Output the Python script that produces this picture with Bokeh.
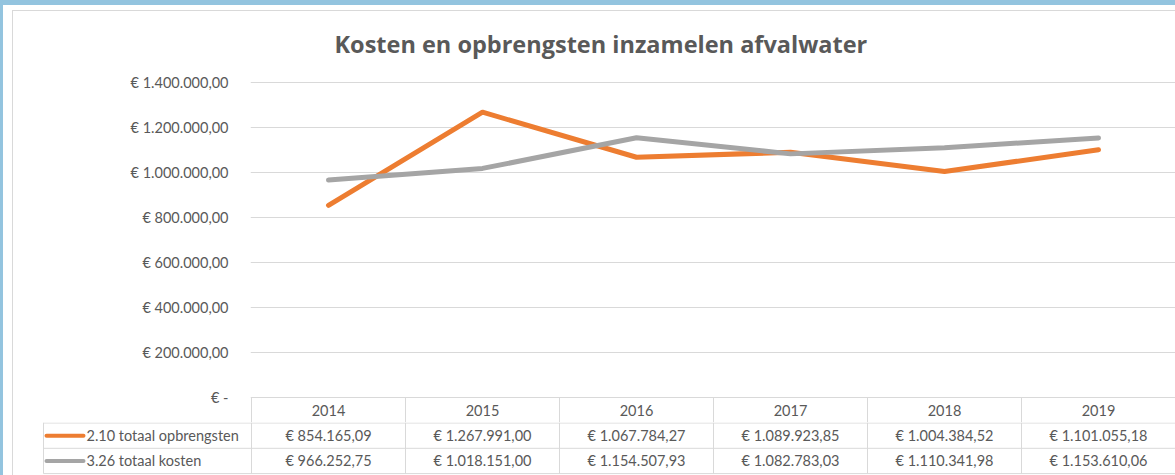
from bokeh.plotting import figure
from bokeh.models import Range1d, FixedTicker, Title, ColumnDataSource
from bokeh.layouts import column
from bokeh.core.properties import value
from bokeh.embed import file_html
from bokeh.resources import INLINE

# ---- data ----
years = ["2014", "2015", "2016", "2017", "2018", "2019"]
opbrengsten = [854165.09, 1267991.00, 1067784.27, 1089923.85, 1004384.52, 1101055.18]
kosten = [966252.75, 1018151.00, 1154507.93, 1082783.03, 1110341.98, 1153610.06]
series_names = ["2.10 totaal opbrengsten", "3.26 totaal kosten"]
y_ticks = [0, 200000, 400000, 600000, 800000, 1000000, 1200000, 1400000]
chart_title = "Kosten en opbrengsten inzamelen afvalwater"

# ---- style ----
ORANGE = "#ED7D31"
GRAY = "#A5A5A5"
TEXT = "#595959"
GRID = "#D9D9D9"
BLUE = "#93C4DF"
FONT = "Lato"
FS = "14.5px"

OX, OY = 13, 11     # page offset of the chart content (inside the frames)
W = 1175 - OX       # figure width
FRAME_LEFT = 250 - OX   # frame left in figure px
X0_PX = 251 - OX        # first category boundary
CAT_W = 154             # px per category
Y0_PX = 397 - OY        # value 0
TOP = 70 - OY           # frame top
HEADER_H = 25
MAIN_H = Y0_PX + HEADER_H
PX_PER_UNIT = 45 / 200000
TAB_H = 475 - OY - MAIN_H
ROW_H = 25.3


def euro(v):
    s = f"{v:,.2f}".replace(",", "X").replace(".", ",").replace("X", ".")
    return "€ " + s


def tick_label(v):
    return "€ -" if v == 0 else euro(v)


n = len(years)
xs = [i + 0.5 for i in range(n)]
x_start = -(X0_PX - FRAME_LEFT) / CAT_W
x_end = x_start + (W - FRAME_LEFT) / CAT_W
y_start = -HEADER_H / PX_PER_UNIT
y_end = (Y0_PX - TOP) / PX_PER_UNIT

p = figure(width=W, height=MAIN_H, x_range=Range1d(x_start, x_end), y_range=Range1d(y_start, y_end),
           output_backend="svg", toolbar_location=None,
           min_border_left=FRAME_LEFT, min_border_right=0, min_border_top=TOP, min_border_bottom=0,
           x_axis_location=None, frame_align=False)
p.title = Title(text=chart_title, align="left", offset=84, text_font="Open Sans",
                text_font_size="23.5px", text_font_style="bold", text_color=TEXT, standoff=22)
p.outline_line_color = None
p.xgrid.visible = False
p.ygrid.grid_line_color = GRID
p.ygrid.grid_line_width = 1
p.yaxis.ticker = FixedTicker(ticks=y_ticks)
p.yaxis.major_label_overrides = {t: tick_label(t) for t in y_ticks}
p.yaxis.axis_line_color = None
p.yaxis.major_tick_line_color = None
p.yaxis.minor_tick_line_color = None
p.yaxis.major_label_standoff = 16
p.yaxis.major_label_text_font = FONT
p.yaxis.major_label_text_font_size = FS
p.yaxis.major_label_text_color = TEXT

src = ColumnDataSource(dict(x=xs, opb=opbrengsten, kos=kosten))
p.line("x", "opb", source=src, line_color=ORANGE, line_width=5, line_cap="round", line_join="round")
p.line("x", "kos", source=src, line_color=GRAY, line_width=5, line_cap="round", line_join="round")

# table header row (years) in the main figure, below the value 0
p.segment(x0=list(range(n + 1)), y0=[0] * (n + 1), x1=list(range(n + 1)), y1=[y_start] * (n + 1),
          line_color=GRID, line_width=1)
txt = dict(text_font=value(FONT), text_font_size=FS, text_color=TEXT,
           text_align="center", text_baseline="middle")
p.text(x=xs, y=[-(HEADER_H / 2) / PX_PER_UNIT] * n, text=years, **txt)

# ---- data rows below ----
leg_left = (43 - OX - X0_PX) / CAT_W
t = figure(width=W, height=TAB_H, x_range=Range1d(-X0_PX / CAT_W, (W - X0_PX) / CAT_W),
           y_range=Range1d(TAB_H, 0), output_backend="svg", toolbar_location=None,
           min_border=0, min_border_left=0, min_border_right=0, min_border_top=0, min_border_bottom=0,
           x_axis_location=None, y_axis_location=None, frame_align=False)
t.grid.visible = False
t.outline_line_color = None

row_lines = [0.5, 0.5 + ROW_H, 0.5 + 2 * ROW_H]
t.segment(x0=[leg_left] * 3, y0=row_lines, x1=[n] * 3, y1=row_lines, line_color=GRID, line_width=1)
t.segment(x0=[leg_left] + list(range(n + 1)), y0=[0] * (n + 2),
          x1=[leg_left] + list(range(n + 1)), y1=[row_lines[-1]] * (n + 2),
          line_color=GRID, line_width=1)

r1 = 0.5 + ROW_H / 2
r2 = 0.5 + ROW_H * 1.5
t.text(x=xs, y=[r1] * n, text=[euro(v) for v in opbrengsten], **txt)
t.text(x=xs, y=[r2] * n, text=[euro(v) for v in kosten], **txt)

# legend keys
kx0 = (46 - OX - X0_PX) / CAT_W
kx1 = (83 - OX - X0_PX) / CAT_W
t.segment(x0=[kx0], y0=[r1], x1=[kx1], y1=[r1], line_color=ORANGE, line_width=4, line_cap="round")
t.segment(x0=[kx0], y0=[r2], x1=[kx1], y1=[r2], line_color=GRAY, line_width=4, line_cap="round")
t.text(x=[kx1 + 3 / CAT_W] * 2, y=[r1, r2], text=series_names,
       text_font=value(FONT), text_font_size=FS, text_color=TEXT,
       text_align="left", text_baseline="middle")

inner = column(p, t, spacing=0,
               styles={"border-left": f"1px solid {GRID}", "border-top": f"1px solid {GRID}"})
layout = column(inner, spacing=0,
                styles={"border-left": f"3px solid {BLUE}", "border-top": f"5px solid {BLUE}",
                        "padding-left": "9px", "padding-top": "5px", "background-color": "#FFFFFF"})
open("out.html", "w").write(file_html(layout, INLINE))
